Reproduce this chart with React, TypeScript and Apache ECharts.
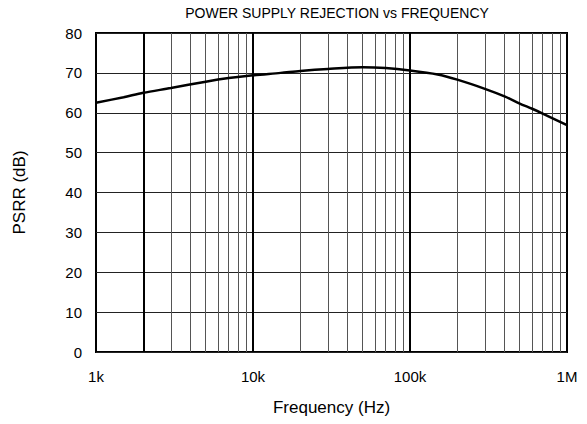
import React, { useEffect, useRef } from "react";
import * as echarts from "echarts";

const freqs = [1000, 1500, 2000, 3000, 5000, 7000, 10000, 15000, 20000, 30000, 50000, 70000, 100000, 150000, 200000, 300000, 400000, 500000, 600000, 700000, 1000000];
const psrr = [62.5, 63.9, 65.0, 66.2, 67.8, 68.7, 69.4, 70.0, 70.5, 71.0, 71.4, 71.2, 70.6, 69.6, 68.3, 66.0, 64.1, 62.3, 61.0, 59.8, 56.9];
const majorLines = [2000, 10000, 100000];
const minorLines = [3000, 4000, 5000, 6000, 7000, 8000, 9000, 20000, 30000, 40000, 50000, 60000, 70000, 80000, 90000, 200000, 300000, 400000, 500000, 600000, 700000, 800000, 900000];
const xTickLabels: Record<number, string> = { 1000: "1k", 10000: "10k", 100000: "100k", 1000000: "1M" };

const FONT = "Liberation Sans, Arial, sans-serif";

export default function App() {
  const ref = useRef<HTMLDivElement>(null);
  useEffect(() => {
    if (!ref.current) return;
    const chart = echarts.init(ref.current, undefined, { renderer: "svg" });
    const markData: any[] = [
      ...minorLines.map((v) => ({ xAxis: v, lineStyle: { color: "#555", width: 1, type: "solid" } })),
      ...majorLines.map((v) => ({ xAxis: v, lineStyle: { color: "#000", width: 2, type: "solid" } })),
    ];
    chart.setOption({
      animation: false,
      backgroundColor: "#fff",
      title: {
        text: "POWER SUPPLY REJECTION vs FREQUENCY",
        left: 332,
        top: 1,
        textAlign: "center",
        textStyle: { fontFamily: FONT, fontSize: 14, fontWeight: "normal", color: "#000" },
      },
      grid: { left: 96, right: 20, top: 33, bottom: 72, show: true, borderColor: "#000", borderWidth: 2, backgroundColor: "transparent" },
      xAxis: {
        type: "log",
        logBase: 10,
        min: 1000,
        max: 1000000,
        name: "Frequency (Hz)",
        nameLocation: "middle",
        nameGap: 47,
        nameTextStyle: { fontFamily: FONT, fontSize: 17, color: "#000" },
        axisLine: { show: false },
        axisTick: { show: false },
        splitLine: { show: false },
        axisLabel: {
          margin: 17,
          fontFamily: FONT,
          fontSize: 15,
          color: "#000",
          formatter: (v: number) => xTickLabels[Math.round(v)] ?? "",
        },
      },
      yAxis: {
        type: "value",
        min: 0,
        max: 80,
        interval: 10,
        name: "PSRR (dB)",
        nameLocation: "middle",
        nameGap: 68,
        nameRotate: 90,
        nameTextStyle: { fontFamily: FONT, fontSize: 17, color: "#000" },
        axisLine: { show: false },
        axisTick: { show: false },
        splitLine: { show: true, lineStyle: { color: "#222", width: 1 } },
        axisLabel: { margin: 14, fontFamily: FONT, fontSize: 15, color: "#000" },
      },
      series: [
        {
          type: "line",
          data: freqs.map((f, i) => [f, psrr[i]]),
          smooth: 0.3,
          showSymbol: false,
          symbol: "none",
          lineStyle: { color: "#000", width: 2.5 },
          z: 5,
          markLine: {
            silent: true,
            symbol: ["none", "none"],
            label: { show: false },
            data: markData,
            z: 1,
          },
        },
      ],
    });
    return () => chart.dispose();
  }, []);
  return <div ref={ref} style={{ width: 587, height: 424, margin: -8 }} />;
}
